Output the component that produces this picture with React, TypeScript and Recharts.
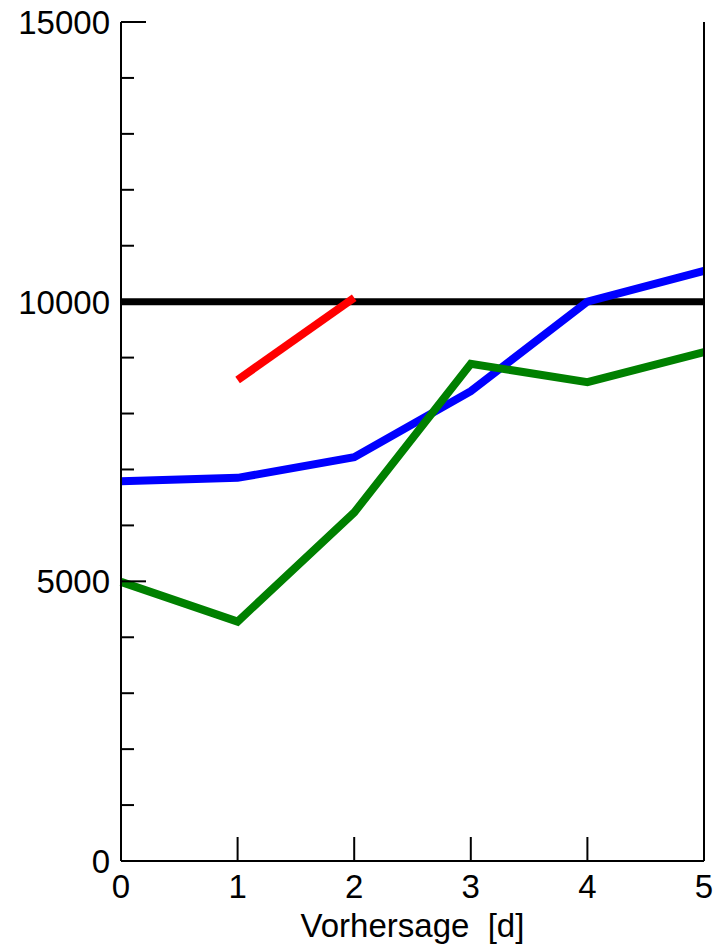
import { LineChart, Line, XAxis, YAxis } from "recharts";

// forecast day
const days = [0, 1, 2, 3, 4, 5];
// threshold
const threshold = [10000, 10000, 10000, 10000, 10000, 10000];
// short run, only days 1-2
const redSeries = [null, 8600, 10070, null, null, null];
const blueSeries = [6790, 6850, 7220, 8400, 10000, 10550];
const greenSeries = [4990, 4280, 6230, 8890, 8560, 9100];

const yTicks = Array.from({ length: 16 }, (_, i) => i * 1000);
const xTicks = [0, 1, 2, 3, 4, 5];

const data = days.map((d, i) => ({
  d,
  ref: threshold[i],
  red: redSeries[i],
  blue: blueSeries[i],
  green: greenSeries[i],
}));

const FONT = "'Liberation Sans', Arial, Helvetica, sans-serif";
const FS = 33;

const LeftTick = (props: any) => {
  const { x, y, payload } = props;
  const major = payload.value % 5000 === 0;
  const len = major ? 25 : 13;
  return (
    <g>
      <line x1={x} x2={x + len} y1={y} y2={y} stroke="#000" strokeWidth={2} />
      {major && (
        <text x={x - 11} y={y + 12} textAnchor="end" fontSize={FS} fontFamily={FONT} fill="#000">
          {payload.value}
        </text>
      )}
    </g>
  );
};

const RightTick = (props: any) => {
  const { x, y, payload } = props;
  const major = payload.value % 5000 === 0;
  const len = major ? 25 : 13;
  return <line x1={x - len} x2={x} y1={y} y2={y} stroke="#000" strokeWidth={2} />;
};

const BottomTick = (props: any) => {
  const { x, y, payload } = props;
  return (
    <g>
      <line x1={x} x2={x} y1={y - 24} y2={y} stroke="#000" strokeWidth={2} />
      <text x={x} y={y + 37} textAnchor="middle" fontSize={FS} fontFamily={FONT} fill="#000">
        {payload.value}
      </text>
    </g>
  );
};

const XLabel = (props: any) => {
  const { viewBox } = props;
  const cx = viewBox.x + viewBox.width / 2;
  return (
    <text
      x={cx}
      y={viewBox.y + 76}
      textAnchor="middle"
      fontSize={FS}
      fontFamily={FONT}
      fill="#000"
      style={{ whiteSpace: "pre" }}
    >
      {"Vorhersage  [d]"}
    </text>
  );
};

export default function App() {
  return (
    <div style={{ position: "absolute", left: 0, top: 0, background: "#fff" }}>
      <LineChart width={715} height={945} data={data} margin={{ top: 22, right: 0, left: 0, bottom: 0 }}>
        <XAxis
          dataKey="d"
          type="number"
          domain={[0, 5]}
          ticks={xTicks}
          height={84}
          tickSize={0}
          tickMargin={0}
          tickLine={false}
          tick={<BottomTick />}
          axisLine={{ stroke: "#000", strokeWidth: 2 }}
          label={<XLabel />}
        />
        <YAxis
          yAxisId="l"
          orientation="left"
          type="number"
          domain={[0, 15000]}
          ticks={yTicks}
          width={121}
          tickSize={0}
          tickMargin={0}
          tickLine={false}
          tick={<LeftTick />}
          interval={0}
          axisLine={{ stroke: "#000", strokeWidth: 2 }}
        />
        <YAxis
          yAxisId="r"
          orientation="right"
          type="number"
          domain={[0, 15000]}
          ticks={yTicks}
          width={11}
          tickSize={0}
          tickMargin={0}
          tickLine={false}
          tick={<RightTick />}
          interval={0}
          axisLine={{ stroke: "#000", strokeWidth: 2 }}
        />
        <Line yAxisId="l" dataKey="ref" stroke="#000" strokeWidth={7} dot={false} isAnimationActive={false} strokeLinecap="butt" />
        <Line yAxisId="l" dataKey="red" stroke="#ff0000" strokeWidth={8} dot={false} isAnimationActive={false} strokeLinecap="butt" />
        <Line yAxisId="l" dataKey="blue" stroke="#0000ff" strokeWidth={8} dot={false} isAnimationActive={false} strokeLinecap="butt" />
        <Line yAxisId="l" dataKey="green" stroke="#008000" strokeWidth={8} dot={false} isAnimationActive={false} strokeLinecap="butt" />
      </LineChart>
    </div>
  );
}
